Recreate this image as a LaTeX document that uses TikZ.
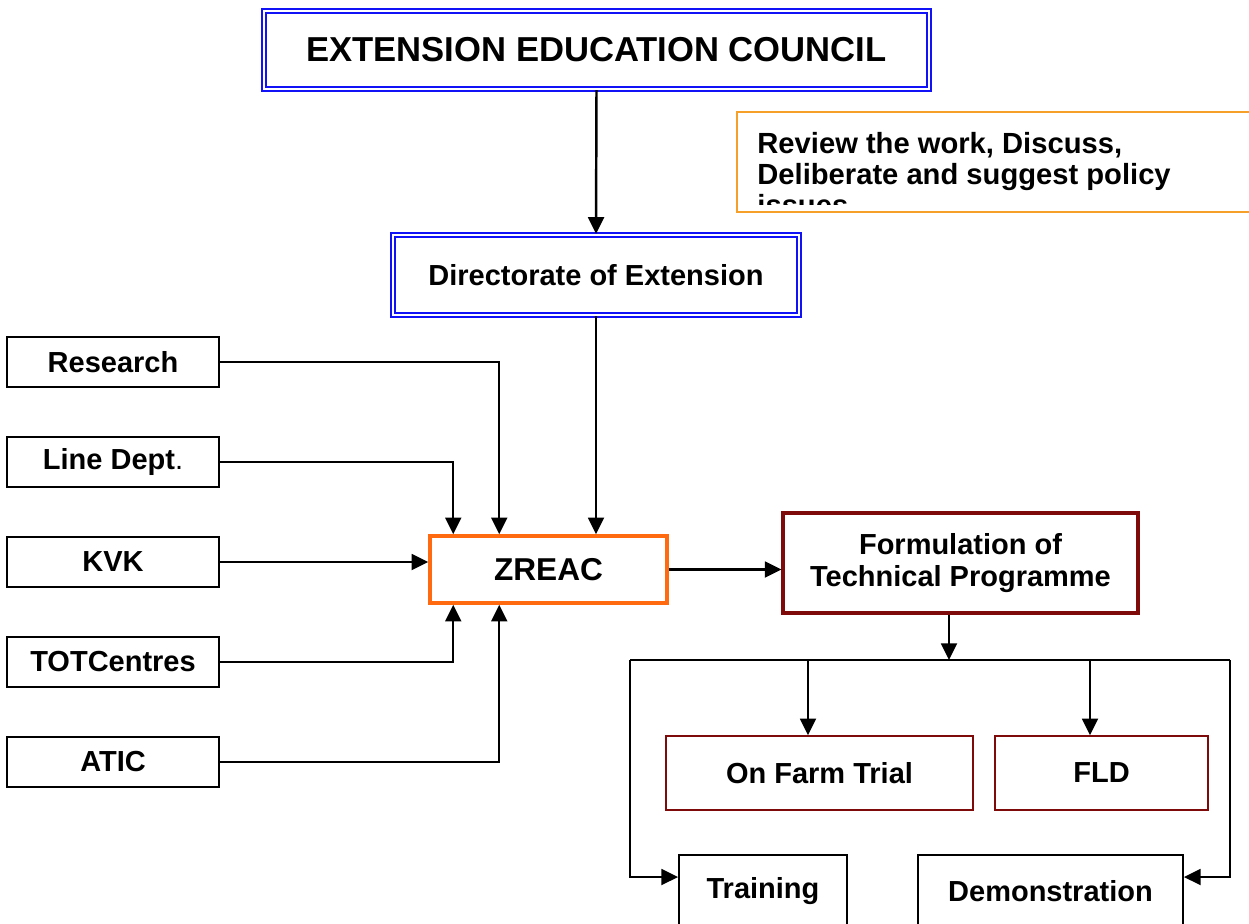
\documentclass[tikz,border=0pt]{standalone}
\usepackage{fontspec}
\setmainfont{Liberation Sans}
\usetikzlibrary{positioning,arrows.meta,calc}
\definecolor{councilblue}{HTML}{1212F6}
\definecolor{noteorange}{HTML}{F6A02A}
\definecolor{zreacorange}{HTML}{FF6A10}
\definecolor{progred}{HTML}{7E0A0A}

\tikzset{
  box/.style={draw, line width=1.1pt, inner sep=0pt, align=center,
    font=\bfseries\fontsize{16.5}{18.6}\selectfont},
  councilbox/.style={box, draw=councilblue, line width=1.3pt,
    double=white, double distance=1.3pt},
  sourcebox/.style={box, minimum width=4.24cm, minimum height=1cm},
  trialbox/.style={box, draw=progred, line width=0.8pt, minimum height=1.48cm},
  feed/.style={line width=1.4pt, -{Triangle[length=9.5pt,width=9pt]}},
}

\begin{document}
\begin{tikzpicture}[x=0.02cm, y=-0.02cm]
  \useasboundingbox (0,0) rectangle (1249,924);

  % council and directorate
  \node[councilbox, minimum width=13.3cm, minimum height=1.56cm,
    font=\bfseries\fontsize{19.7}{22}\selectfont] (eec) at (596.5,50)
    {EXTENSION EDUCATION COUNCIL};
  \node[councilbox, minimum width=8.12cm, minimum height=1.6cm] (dir) at (596,275)
    {Directorate of Extension};

  % note on the council's role
  \node[draw=noteorange, line width=1.1pt, minimum width=10.5cm, minimum height=2cm,
    inner sep=0pt] (note) at (999.5,162) {};
  \begin{scope}
    \clip (note.north west) rectangle ([yshift=0.16cm]note.south east);
    \node[anchor=north west, inner sep=0pt, align=left,
      font=\bfseries\fontsize{16.6}{17.6}\selectfont] (notetxt)
      at ([xshift=0.42cm,yshift=-0.42cm]note.north west)
      {Review the work, Discuss,\\Deliberate and suggest policy\\issues};
  \end{scope}

  % sources feeding ZREAC
  \node[sourcebox] (res)  at (113,362) {Research};
  \node[sourcebox] (line) at (113,462) {Line Dept{\mdseries .}};
  \node[sourcebox] (kvk)  at (113,562) {KVK};
  \node[sourcebox] (tot)  at (113,662) {TOTCentres};
  \node[sourcebox] (atic) at (113,762) {ATIC};

  \node[box, draw=zreacorange, line width=2pt, minimum width=4.74cm, minimum height=1.34cm,
    font=\bfseries\fontsize{18}{20}\selectfont] (zreac) at (548.5,569.5) {ZREAC};
  \node[box, draw=progred, line width=1.8pt, minimum width=7.1cm, minimum height=2cm]
    (form) at (960.5,563) {Formulation of\\Technical Programme};

  % programme outputs
  \node[trialbox, minimum width=6.14cm] (oft) at (819.5,773) {On Farm Trial};
  \node[trialbox, minimum width=4.26cm] (fld) at (1101.5,773) {FLD};
  \node[box, minimum width=3.36cm, minimum height=1.44cm] (train) at (763,891) {Training};
  \node[box, minimum width=5.3cm, minimum height=1.44cm] (demo) at (1050.5,891) {Demonstration};

  \coordinate (fork) at (949,660);
  \coordinate (busL) at (630,660);
  \coordinate (busR) at (1230,660);
  \coordinate (tapA) at (808,660);
  \coordinate (tapB) at (1090,660);

  % arrows
  \draw[feed] (eec.south) -- (dir.north);
  \draw[feed] (dir.south) -- (dir.south |- zreac.north);
  \draw[feed] (res.east) -| ([xshift=1.42cm]zreac.north west);
  \draw[feed] (line.east) -| ([xshift=0.5cm]zreac.north west);
  \draw[feed] (kvk.east) -- (kvk.east -| zreac.west);
  \draw[feed] (tot.east) -| ([xshift=0.5cm]zreac.south west);
  \draw[feed] (atic.east) -| ([xshift=1.42cm]zreac.south west);
  \draw[feed] (zreac.east) -- (zreac.east -| form.west);
  \draw[feed] (form.south -| fork) -- (fork);
  \draw[line width=1.4pt] (busL) -- (busR);
  \draw[feed] (tapA) -- (tapA |- oft.north);
  \draw[feed] (tapB) -- (tapB |- fld.north);
  \draw[feed] (busL) |- ([yshift=-0.46cm]train.north west);
  \draw[feed] (busR) |- ([yshift=-0.46cm]demo.north east);

\end{tikzpicture}
\end{document}
